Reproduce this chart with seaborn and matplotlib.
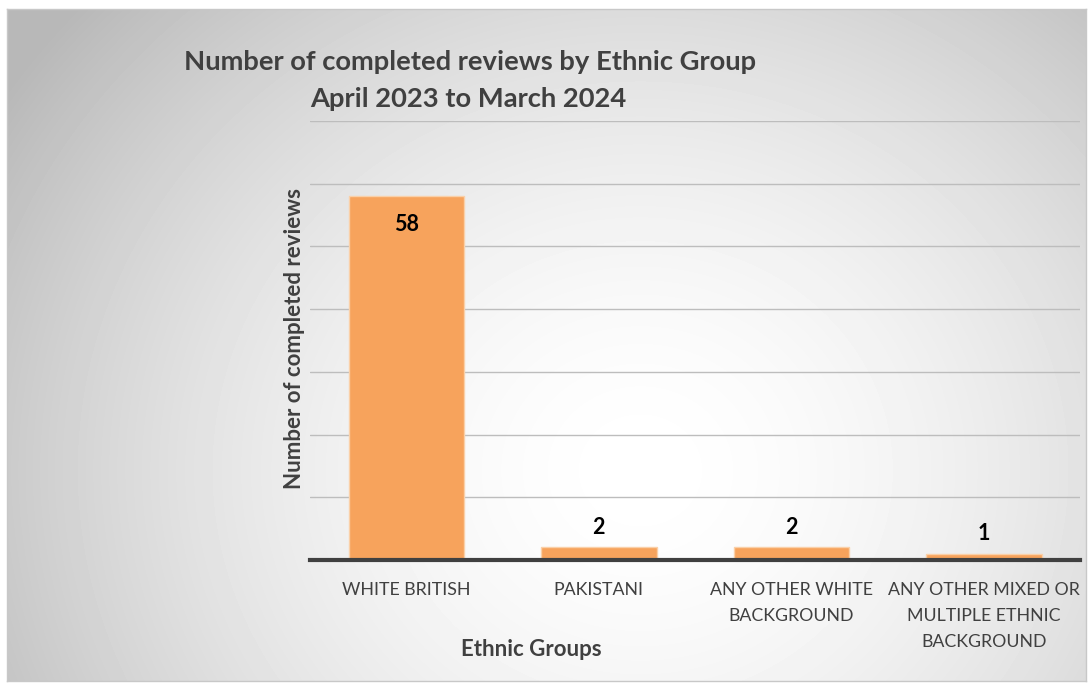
import numpy as np
import pandas as pd
import seaborn as sns
import matplotlib.pyplot as plt

groups = ["WHITE BRITISH", "PAKISTANI", "ANY OTHER WHITE\nBACKGROUND",
          "ANY OTHER MIXED OR\nMULTIPLE ETHNIC\nBACKGROUND"]
reviews = [58, 2, 2, 1]

df = pd.DataFrame({"group": groups, "reviews": reviews})

sns.set_theme(style="white")
plt.rcParams["font.family"] = ["Lato", "DejaVu Sans"]

fig = plt.figure(figsize=(10.89, 6.84), dpi=100)
fig.patch.set_facecolor("white")

# framed background with a radial grey gradient
W, H = 1089, 684
bx0, by0, bx1, by1 = 7, 9, 1086, 681
bg = fig.add_axes([bx0 / W, 1 - by1 / H, (bx1 - bx0) / W, (by1 - by0) / H], zorder=0)
yy, xx = np.mgrid[by0:by1, bx0:bx1]
d = np.hypot(xx - 640, (yy - 470) * 1.1)
v = np.clip(1.0 - 0.28 * (d / 760.0) ** 1.7, 0.72, 1.0)
bg.imshow(v, cmap="gray", vmin=0, vmax=1, aspect="auto", interpolation="bilinear")
bg.set_xticks([])
bg.set_yticks([])
for s in bg.spines.values():
    s.set_color("#c8c8c8")
    s.set_linewidth(1)

ax = fig.add_axes([310 / W, 1 - 560 / H, (1080 - 310) / W, (560 - 121) / H], zorder=1)
ax.patch.set_alpha(0)
sns.barplot(data=df, x="group", y="reviews", color="#F7A35C", width=0.6,
            edgecolor="#FAD0A8", linewidth=1, ax=ax, saturation=1)
ax.set_xlim(-0.5, 3.5)
ax.set_ylim(0, 70)
ax.set_yticks(np.arange(0, 71, 10))
ax.set_yticklabels([])
ax.tick_params(axis="y", length=0)
ax.tick_params(axis="x", length=0, pad=16, labelsize=12.8, labelcolor="#404040")
for lbl in ax.get_xticklabels():
    lbl.set_linespacing(1.75)
ax.grid(axis="y", color="#bdbdbd", linewidth=1)
ax.set_axisbelow(True)
for s in ["top", "right", "left"]:
    ax.spines[s].set_visible(False)
ax.spines["bottom"].set_color("#404040")
ax.spines["bottom"].set_linewidth(3)
ax.spines["bottom"].set_zorder(5)

for i, val in enumerate(reviews):
    if val > 10:
        ax.text(i, val - 2.8, str(val), ha="center", va="top", fontsize=15.5,
                fontweight="bold", color="black")
    else:
        ax.text(i, val + 1.5, str(val), ha="center", va="bottom", fontsize=15.5,
                fontweight="bold", color="black")

ax.set_xlabel("Ethnic Groups", fontsize=16, fontweight="bold", color="#404040")
ax.set_ylabel("Number of completed reviews", fontsize=16, fontweight="bold",
              color="#404040")
ax.yaxis.set_label_coords(-0.007, 0.505)
ax.xaxis.set_label_coords(0.287, -0.18)

fig.text(470 / W, 1 - 62 / H, "Number of completed reviews by Ethnic Group",
         ha="center", va="center", fontsize=19.7, fontweight="bold", color="#404040")
fig.text(468 / W, 1 - 99 / H, "April 2023 to March 2024",
         ha="center", va="center", fontsize=19.7, fontweight="bold", color="#404040")

fig.savefig("out.png", dpi=100)
